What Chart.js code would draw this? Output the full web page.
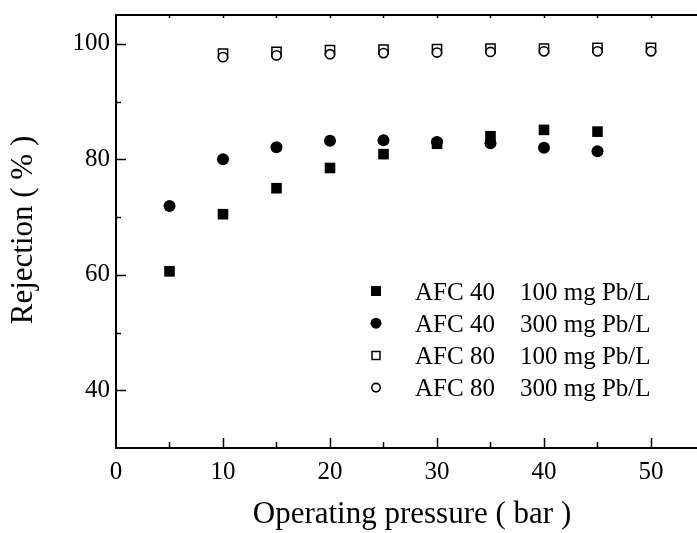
<!DOCTYPE html>
<html><head><meta charset="utf-8">
<script src="https://cdn.jsdelivr.net/npm/chart.js@4/dist/chart.umd.min.js"></script>
<style>html,body{margin:0;padding:0;background:#fff;}canvas{display:block;}</style>
</head><body>
<canvas id="c" width="697" height="533"></canvas>
<script>
// ---- data ----
const pressuresAFC40 = [5, 10, 15, 20, 25, 30, 35, 40, 45];
const pressuresAFC80 = [10, 15, 20, 25, 30, 35, 40, 45, 50];
const afc40_100 = [60.6, 70.5, 75.0, 78.5, 80.9, 82.7, 84.0, 85.1, 84.8];
const afc40_300 = [71.9, 80.0, 82.1, 83.2, 83.3, 83.0, 82.8, 82.0, 81.4];
const afc80_100 = [98.3, 98.6, 98.9, 99.0, 99.1, 99.2, 99.2, 99.3, 99.3];
const afc80_300 = [97.7, 98.0, 98.2, 98.4, 98.5, 98.6, 98.7, 98.7, 98.7];
const membranes = ['AFC 40', 'AFC 40', 'AFC 80', 'AFC 80'];
const concentrations = ['100 mg Pb/L', '300 mg Pb/L', '100 mg Pb/L', '300 mg Pb/L'];
const xTickLabels = [0, 10, 20, 30, 40, 50];
const yTickLabels = [40, 60, 80, 100];
const xTitle = 'Operating pressure ( bar )';
const yTitle = 'Rejection ( % )';

const FONT = 'Liberation Serif';
const pts = (xs, ys) => xs.map((x, i) => ({x: x, y: ys[i]}));

const axesPlugin = {
  id: 'axesDeco',
  afterDraw(chart) {
    const c = chart.ctx, a = chart.chartArea;
    const xs = chart.scales.x, ys = chart.scales.y;
    c.save();
    c.strokeStyle = '#000';
    c.lineWidth = 2;
    // top frame line
    c.beginPath(); c.moveTo(a.left - 1, a.top); c.lineTo(a.right, a.top); c.stroke();
    c.lineWidth = 1.5;
    // x ticks (bottom inward, top inward small)
    xs.ticks.forEach(t => {
      const v = t.value;
      if (v % 5 !== 0 || v === 0) return;
      const px = Math.round(xs.getPixelForValue(v)) + 0.5;
      const len = (v % 10 === 0) ? 10 : 6;
      c.beginPath(); c.moveTo(px, a.bottom); c.lineTo(px, a.bottom - len); c.stroke();
      c.beginPath(); c.moveTo(px, a.top); c.lineTo(px, a.top + 3); c.stroke();
    });
    ys.ticks.forEach(t => {
      const v = t.value;
      if (v % 10 !== 0 || v <= ys.min) return;
      const py = Math.round(ys.getPixelForValue(v)) + 0.5;
      const len = (v % 20 === 0) ? 10 : 5;
      c.beginPath(); c.moveTo(a.left, py); c.lineTo(a.left + len, py); c.stroke();
    });
    // axis titles
    c.fillStyle = '#000';
    c.font = '31px "' + FONT + '"';
    c.textAlign = 'center';
    c.textBaseline = 'alphabetic';
    c.fillText(xTitle, 412, 523);
    c.translate(32, 230);
    c.rotate(-Math.PI / 2);
    c.fillText(yTitle, 0, 0);
    c.restore();

    // legend inside plot
    c.save();
    const ds = chart.data.datasets;
    c.font = '25px "' + FONT + '"';
    c.fillStyle = '#000';
    c.textAlign = 'left';
    c.textBaseline = 'alphabetic';
    ds.forEach((d, i) => {
      const cy = a.top + 276 + i * 32.2;
      const mx = a.left + 260;
      c.save();
      c.fillStyle = d.backgroundColor;
      c.strokeStyle = d.borderColor;
      c.lineWidth = d.borderWidth || 0;
      c.beginPath();
      if (d.pointStyle === 'rect') {
        const s = d.legendSize;
        c.rect(mx - s / 2, cy - s / 2, s, s);
      } else {
        c.arc(mx, cy, d.legendSize / 2, 0, Math.PI * 2);
      }
      c.fill();
      if (d.borderWidth) c.stroke();
      c.restore();
      c.fillText(membranes[i], a.left + 299, cy + 8.5);
      c.fillText(concentrations[i], a.left + 404, cy + 8.5);
    });
    c.restore();
  }
};

const noPad = s => { s.paddingTop = 0; s.paddingBottom = 0; s.paddingLeft = 0; s.paddingRight = 0; };

new Chart(document.getElementById('c'), {
  type: 'scatter',
  data: {
    datasets: [
      {label: membranes[0] + ' ' + concentrations[0], data: pts(pressuresAFC40, afc40_100),
       pointStyle: 'rect', pointRadius: 7.5, backgroundColor: '#000', borderColor: '#000', borderWidth: 0, order: 3, legendSize: 10},
      {label: membranes[1] + ' ' + concentrations[1], data: pts(pressuresAFC40, afc40_300),
       pointStyle: 'circle', pointRadius: 6, backgroundColor: '#000', borderColor: '#000', borderWidth: 0, order: 1, legendSize: 11},
      {label: membranes[2] + ' ' + concentrations[2], data: pts(pressuresAFC80, afc80_100),
       pointStyle: 'rect', pointRadius: 6.5, backgroundColor: '#fff', borderColor: '#000', borderWidth: 1.5, order: 2, legendSize: 8},
      {label: membranes[3] + ' ' + concentrations[3], data: pts(pressuresAFC80, afc80_300),
       pointStyle: 'circle', pointRadius: 4.6, backgroundColor: '#fff', borderColor: '#000', borderWidth: 1.6, order: 0, legendSize: 8.5}
    ]
  },
  options: {
    responsive: false,
    animation: false,
    devicePixelRatio: 1,
    layout: {autoPadding: false, padding: {top: 15, right: 0, left: 0, bottom: 0}},
    plugins: {legend: {display: false}, tooltip: {enabled: false}},
    scales: {
      x: {
        type: 'linear', position: 'bottom', min: 0, max: 54.3,
        afterFit: s => { s.height = 85; noPad(s); },
        grid: {display: false, drawTicks: false},
        border: {display: true, color: '#000', width: 2},
        ticks: {stepSize: 5, autoSkip: false, includeBounds: false, maxRotation: 0, color: '#000', padding: 9,
                font: {family: FONT, size: 25},
                callback: v => xTickLabels.includes(v) ? String(v) : ''}
      },
      y: {
        type: 'linear', position: 'left', min: 30, max: 105,
        afterFit: s => { s.width = 116; noPad(s); },
        grid: {display: false, drawTicks: false},
        border: {display: true, color: '#000', width: 2},
        ticks: {stepSize: 10, autoSkip: false, includeBounds: false, color: '#000', padding: 6,
                font: {family: FONT, size: 25},
                callback: v => yTickLabels.includes(v) ? String(v) : ''}
      }
    }
  },
  plugins: [axesPlugin]
});
</script>
</body></html>
